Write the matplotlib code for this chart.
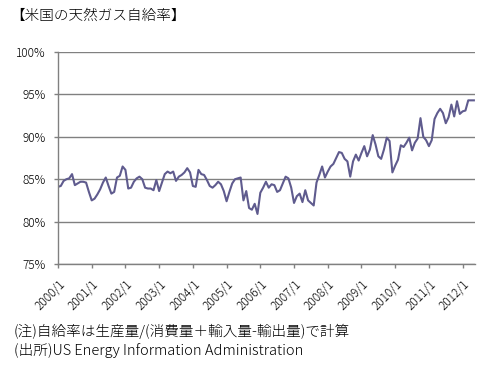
import matplotlib
matplotlib.use("Agg")
import matplotlib.pyplot as plt
import matplotlib.transforms as mtransforms

plt.rcParams['font.family'] = ['Noto Sans CJK JP', 'DejaVu Sans']

# monthly self-sufficiency ratio (%), 2000/1 - 2012/5
y2000 = [84.1, 84.2, 84.8, 85.0, 85.1, 85.6, 84.3, 84.5, 84.7, 84.7, 84.6, 83.5]
y2001 = [82.5, 82.7, 83.2, 83.8, 84.6, 85.2, 84.2, 83.3, 83.5, 85.2, 85.4, 86.5]
y2002 = [86.1, 83.9, 84.0, 84.7, 85.1, 85.3, 85.0, 84.0, 83.9, 83.9, 83.7, 84.9]
y2003 = [83.6, 84.6, 85.6, 85.9, 85.7, 85.9, 84.8, 85.3, 85.5, 85.8, 86.3, 85.8]
y2004 = [84.2, 84.1, 86.1, 85.6, 85.5, 84.9, 84.2, 84.0, 84.3, 84.7, 84.4, 83.6]
y2005 = [82.4, 83.5, 84.5, 85.0, 85.1, 85.2, 82.5, 83.6, 81.6, 81.4, 82.1, 80.9]
y2006 = [83.4, 84.0, 84.7, 84.0, 84.4, 84.3, 83.5, 83.7, 84.5, 85.3, 85.1, 84.0]
y2007 = [82.2, 83.0, 83.3, 82.3, 83.7, 82.5, 82.2, 81.9, 84.6, 85.5, 86.5, 85.2]
y2008 = [85.9, 86.5, 86.8, 87.5, 88.2, 88.1, 87.4, 87.1, 85.3, 87.1, 87.9, 87.2]
y2009 = [88.1, 88.9, 87.7, 88.5, 90.2, 89.1, 87.7, 87.4, 88.5, 89.9, 89.5, 85.8]
y2010 = [86.6, 87.3, 89.0, 88.8, 89.3, 89.9, 88.4, 89.3, 89.8, 92.2, 90.0, 89.6]
y2011 = [88.9, 89.6, 92.1, 92.8, 93.3, 92.8, 91.6, 92.3, 93.8, 92.4, 94.2, 92.7]
y2012 = [93.0, 93.1, 94.3, 94.3, 94.3]

values = (y2000 + y2001 + y2002 + y2003 + y2004 + y2005 + y2006 +
          y2007 + y2008 + y2009 + y2010 + y2011 + y2012)
years = list(range(2000, 2013))
tick_labels = [f"{y}/1" for y in years]
y_ticks = [75, 80, 85, 90, 95, 100]

title = "【米国の天然ガス自給率】"
note1 = "(注)自給率は生産量/(消費量＋輸入量-輸出量)で計算"
note2 = "(出所)US Energy Information Administration"

fig = plt.figure(figsize=(4.99, 3.78), dpi=100)
ax = fig.add_axes([0.1162, 0.3016, 0.8357, 0.5608])

months = list(range(len(values)))
ax.plot(months, values, color='#5f5b8e', linewidth=1.5)

ax.set_xlim(0, len(values) - 0.6)
ax.set_ylim(75, 100)
ax.set_yticks(y_ticks)
ax.set_yticklabels([f"{v}%" for v in y_ticks], fontsize=8.5, fontweight='light')
ax.set_xticks([12 * i for i in range(len(years))])
ax.set_xticklabels(tick_labels, fontsize=8.5, rotation=45, ha='right',
                   va='top', rotation_mode='anchor', fontweight='light')

# nudge the slanted year labels a little to the left
shift = mtransforms.ScaledTranslation(-5 / 100, 0, fig.dpi_scale_trans)
for lab in ax.get_xticklabels():
    lab.set_transform(lab.get_transform() + shift)

ax.grid(axis='y', color='#808080', linewidth=1.0)
ax.set_axisbelow(True)
for s in ['top', 'right']:
    ax.spines[s].set_visible(False)
for s in ['left', 'bottom']:
    ax.spines[s].set_color('#808080')
    ax.spines[s].set_linewidth(1.0)
ax.tick_params(axis='both', color='#808080', length=3, width=1.0, direction='out')
ax.tick_params(axis='y', pad=6)
ax.tick_params(axis='x', pad=7)

fig.text(10 / 499, 1 - 16 / 378, title, fontsize=10.5, va='center', ha='left',
         fontweight='light')
fig.text(14 / 499, 1 - 331 / 378, note1, fontsize=10.5, va='center', ha='left',
         fontweight='light')
fig.text(14 / 499, 1 - 350 / 378, note2, fontsize=10.5, va='center', ha='left',
         fontweight='light')

fig.savefig("out.png", dpi=100)
